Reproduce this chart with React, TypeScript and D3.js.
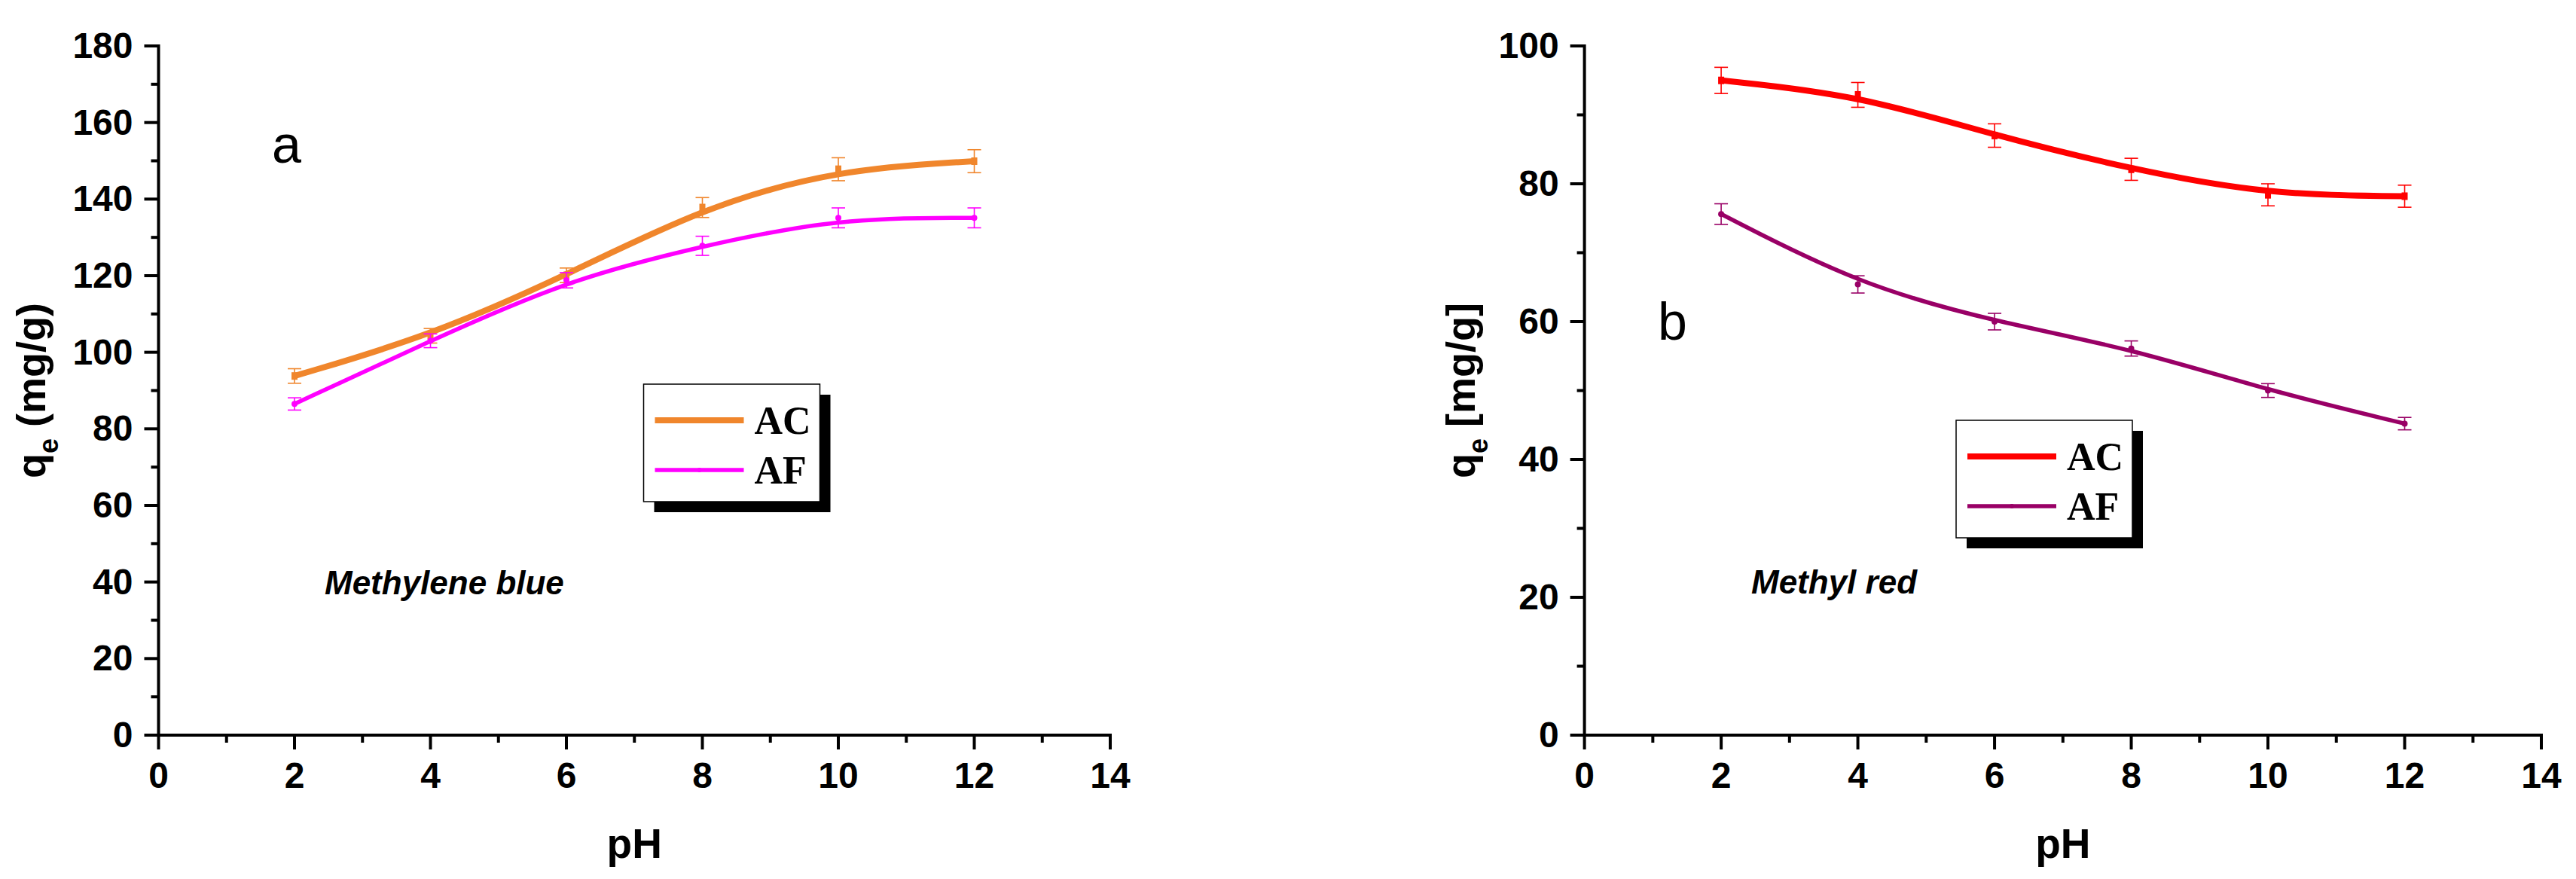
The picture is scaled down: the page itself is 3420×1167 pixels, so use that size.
import React from "react";
import * as d3 from "d3";

// ---- data ----
const pH = [2, 4, 6, 8, 10, 12];
const mbAC = [93.8, 104.3, 120.1, 137.8, 147.8, 149.9];
const mbACErr = [1.9, 1.9, 1.9, 2.6, 3.0, 3.0];
const mbAF = [86.5, 103.0, 118.8, 127.8, 135.1, 135.1];
const mbAFErr = [1.6, 1.8, 2.0, 2.5, 2.6, 2.6];
const mrAC = [95.0, 92.9, 87.0, 82.1, 78.4, 78.2];
const mrACErr = [1.9, 1.8, 1.7, 1.6, 1.6, 1.6];
const mrAF = [75.6, 65.4, 60.0, 56.1, 50.0, 45.2];
const mrAFErr = [1.5, 1.25, 1.2, 1.1, 1.0, 0.9];
const xMajor = [0, 2, 4, 6, 8, 10, 12, 14];
const xMinor = [1, 3, 5, 7, 9, 11, 13];
const mbYMajor = [0, 20, 40, 60, 80, 100, 120, 140, 160, 180];
const mbYMinor = [10, 30, 50, 70, 90, 110, 130, 150, 170];
const mrYMajor = [0, 20, 40, 60, 80, 100];
const mrYMinor = [10, 30, 50, 70, 90];
const seriesNames = ["AC", "AF"];

const SANS = "'Liberation Sans', Arial, sans-serif";
const SERIF = "'Liberation Serif', 'Times New Roman', serif";

type Series = { name: string; values: number[]; errs: number[]; color: string; width: number; marker: "square" | "circle" };

type PanelProps = {
  x0: number; x1: number; y0: number; y1: number;
  yMax: number; yMajor: number[]; yMinor: number[];
  series: Series[];
  letter: string; letterPos: [number, number];
  dye: string; dyePos: [number, number];
  yTitleX: number; bracket: [string, string];
  legend: [number, number];
};

function Panel(p: PanelProps) {
  const x = d3.scaleLinear().domain([0, 14]).range([p.x0, p.x1]);
  const y = d3.scaleLinear().domain([0, p.yMax]).range([p.y0, p.y1]);
  const line = d3.line<number>().x((_, i) => x(pH[i])).y((d) => y(d)).curve(d3.curveBasis);
  const cy = (p.y0 + p.y1) / 2;
  const cx = (p.x0 + p.x1) / 2;
  const [lx, ly] = p.legend;
  const lw = 234, lh = 156, sh = 14;
  return (
    <g>
      {/* series */}
      {p.series.map((s) => (
        <g key={s.name}>
          {s.values.map((v, i) => {
            const px = x(pH[i]);
            return (
              <g key={i} stroke={s.color} strokeWidth={1.6}>
                <line x1={px} x2={px} y1={y(v + s.errs[i])} y2={y(v - s.errs[i])} />
                <line x1={px - 9} x2={px + 9} y1={y(v + s.errs[i])} y2={y(v + s.errs[i])} />
                <line x1={px - 9} x2={px + 9} y1={y(v - s.errs[i])} y2={y(v - s.errs[i])} />
              </g>
            );
          })}
          <path d={line(s.values) || ""} fill="none" stroke={s.color} strokeWidth={s.width} />
          {s.values.map((v, i) =>
            s.marker === "square" ? (
              <rect key={i} x={x(pH[i]) - 4} y={y(v) - 5} width={8} height={10} fill={s.color} />
            ) : (
              <circle key={i} cx={x(pH[i])} cy={y(v)} r={4} fill={s.color} />
            )
          )}
        </g>
      ))}
      {/* axes */}
      <g stroke="#000" strokeWidth={4}>
        <line x1={p.x0} x2={p.x1 + 2} y1={p.y0} y2={p.y0} />
        <line x1={p.x0} x2={p.x0} y1={p.y0 + 2} y2={p.y1 - 2} />
        {xMajor.map((t) => <line key={"xM" + t} x1={x(t)} x2={x(t)} y1={p.y0} y2={p.y0 + 19} />)}
        {xMinor.map((t) => <line key={"xm" + t} x1={x(t)} x2={x(t)} y1={p.y0} y2={p.y0 + 10} />)}
        {p.yMajor.map((t) => <line key={"yM" + t} x1={p.x0 - 19} x2={p.x0} y1={y(t)} y2={y(t)} />)}
        {p.yMinor.map((t) => <line key={"ym" + t} x1={p.x0 - 10} x2={p.x0} y1={y(t)} y2={y(t)} />)}
      </g>
      <g fontFamily={SANS} fontWeight="bold" fontSize={48} fill="#000">
        {xMajor.map((t) => (
          <text key={"xl" + t} x={x(t)} y={1046} textAnchor="middle">{t}</text>
        ))}
        {p.yMajor.map((t) => (
          <text key={"yl" + t} x={p.x0 - 34} y={y(t) + 16} textAnchor="end">{t}</text>
        ))}
      </g>
      <text x={cx} y={1139} textAnchor="middle" fontFamily={SANS} fontWeight="bold" fontSize={55}>pH</text>
      <text transform={`translate(${p.yTitleX},${cy}) rotate(-90)`} textAnchor="middle" fontFamily={SANS} fontWeight="bold" fontSize={54}>
        q<tspan fontSize={36} dy={17}>e</tspan><tspan dy={-17}>{" " + p.bracket[0] + "mg/g" + p.bracket[1]}</tspan>
      </text>
      <text x={p.letterPos[0]} y={p.letterPos[1]} fontFamily={SANS} fontSize={70}>{p.letter}</text>
      <text x={p.dyePos[0]} y={p.dyePos[1]} fontFamily={SANS} fontWeight="bold" fontStyle="italic" fontSize={44}>{p.dye}</text>
      {/* legend */}
      <rect x={lx + sh} y={ly + sh} width={lw} height={lh} fill="#000" />
      <rect x={lx} y={ly} width={lw} height={lh} fill="#fff" stroke="#000" strokeWidth={1.5} />
      {p.series.map((s, i) => {
        const yy = ly + (i === 0 ? 48 : 114);
        return (
          <g key={"lg" + s.name}>
            <line x1={lx + 15} x2={lx + 133} y1={yy} y2={yy} stroke={s.color} strokeWidth={s.width} />
            {s.marker === "circle" && <circle cx={lx + 74} cy={yy} r={3} fill={s.color} />}
            <text x={lx + 147} y={yy + 18} fontFamily={SERIF} fontWeight="bold" fontSize={52}>{s.name}</text>
          </g>
        );
      })}
    </g>
  );
}

export default function App() {
  const orange = "#F0862C";
  const magenta = "#FF00FF";
  const red = "#FF0000";
  const purple = "#990066";
  return (
    <svg width={3420} height={1167} style={{ position: "absolute", left: 0, top: 0, background: "#fff" }}>
      <rect width={3420} height={1167} fill="#fff" />
      <Panel
        x0={210.5} x1={1474} y0={976} y1={61}
        yMax={180} yMajor={mbYMajor} yMinor={mbYMinor}
        series={[
          { name: seriesNames[0], values: mbAC, errs: mbACErr, color: orange, width: 8, marker: "square" },
          { name: seriesNames[1], values: mbAF, errs: mbAFErr, color: magenta, width: 5.5, marker: "circle" },
        ]}
        letter="a" letterPos={[361, 216]}
        dye="Methylene blue" dyePos={[431, 789]}
        yTitleX={60} bracket={["(", ")"]}
        legend={[854.5, 510]}
      />
      <Panel
        x0={2103.6} x1={3374} y0={976} y1={61}
        yMax={100} yMajor={mrYMajor} yMinor={mrYMinor}
        series={[
          { name: seriesNames[0], values: mrAC, errs: mrACErr, color: red, width: 8, marker: "square" },
          { name: seriesNames[1], values: mrAF, errs: mrAFErr, color: purple, width: 5.5, marker: "circle" },
        ]}
        letter="b" letterPos={[2201, 451]}
        dye="Methyl red" dyePos={[2325, 788]}
        yTitleX={1958} bracket={["[", "]"]}
        legend={[2597, 558]}
      />
    </svg>
  );
}
